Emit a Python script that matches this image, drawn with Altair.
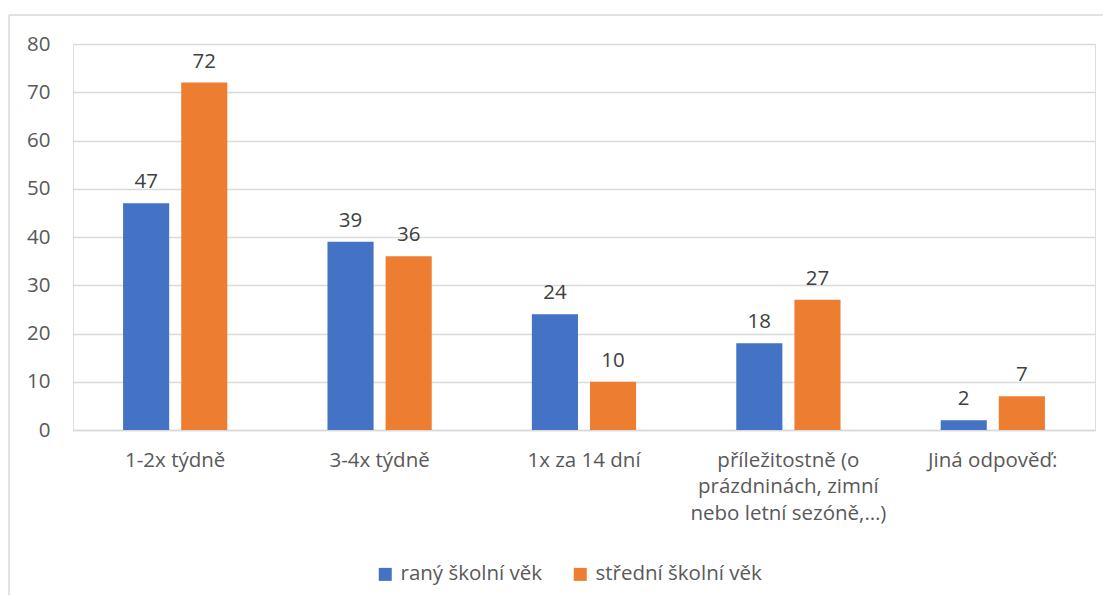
import altair as alt
import pandas as pd

categories = ["1-2x týdně", "3-4x týdně", "1x za 14 dní",
              "příležitostně (o|prázdninách, zimní|nebo letní sezóně,…)",
              "Jiná odpověď:"]
series = ["raný školní věk", "střední školní věk"]
early = [47, 39, 24, 18, 2]
middle = [72, 36, 10, 27, 7]
colors = ["#4472C4", "#ED7D31"]

rows = []
for c, a, b in zip(categories, early, middle):
    rows.append({"cat": c, "series": series[0], "value": a})
    rows.append({"cat": c, "series": series[1], "value": b})
df = pd.DataFrame(rows)

FONT = "Open Sans"
FS = 20.5
W, H = 1022, 386

x = alt.X("cat:N", sort=categories, title=None,
          scale=alt.Scale(paddingInner=0.49, paddingOuter=0.245),
          axis=alt.Axis(labelAngle=0, labelExpr="split(datum.label, '|')",
                        labelFontSize=FS, labelColor="#595959", labelFont=FONT,
                        labelPadding=20, labelLineHeight=26.5, ticks=False,
                        domainColor="#D9D9D9", domainWidth=1.5, grid=False,
                        labelLimit=300))
xo = alt.XOffset("series:N", sort=series,
                 scale=alt.Scale(paddingInner=0.207, paddingOuter=0))
y = alt.Y("value:Q", title=None,
          scale=alt.Scale(domain=[0, 80]),
          axis=alt.Axis(values=list(range(0, 81, 10)), labelFontSize=FS,
                        labelColor="#595959", labelFont=FONT, labelPadding=23,
                        ticks=False, domain=False, gridColor="#D9D9D9",
                        gridWidth=1.5))

base = alt.Chart(df)
bars = base.mark_bar().encode(
    x=x, xOffset=xo, y=y,
    color=alt.Color("series:N", sort=series,
                    scale=alt.Scale(domain=series, range=colors),
                    legend=alt.Legend(title=None, orient="none", direction="horizontal",
                                      legendX=302, legendY=520, symbolType="square",
                                      symbolSize=169, symbolStrokeWidth=0,
                                      labelFontSize=FS, labelColor="#595959",
                                      labelFont=FONT, labelOffset=5, columnPadding=27,
                                      labelLimit=300))
)
labels = base.mark_text(baseline="bottom", dy=-11, fontSize=FS, color="#404040",
                        font=FONT).encode(
    x=alt.X("cat:N", sort=categories), xOffset=xo, y="value:Q",
    text="value:Q")

left_border = alt.Chart(pd.DataFrame({"k": [0]})).mark_rule(color="#D9D9D9", strokeWidth=1.5).encode(
    x=alt.value(-64), y=alt.value(-29), y2=alt.value(600))
top_border = alt.Chart(pd.DataFrame({"k": [0]})).mark_rule(color="#D9D9D9", strokeWidth=1.5).encode(
    x=alt.value(-64), x2=alt.value(1100), y=alt.value(-29))

chart = alt.layer(left_border, top_border, bars, labels).properties(
    width=W, height=H,
    autosize=alt.AutoSizeParams(type="none"),
    padding={"left": 65, "top": 36, "right": 8, "bottom": 165},
).configure_view(stroke=None).configure(background="white")

chart.save("out.html", embed_options={"renderer": "svg", "actions": False})
